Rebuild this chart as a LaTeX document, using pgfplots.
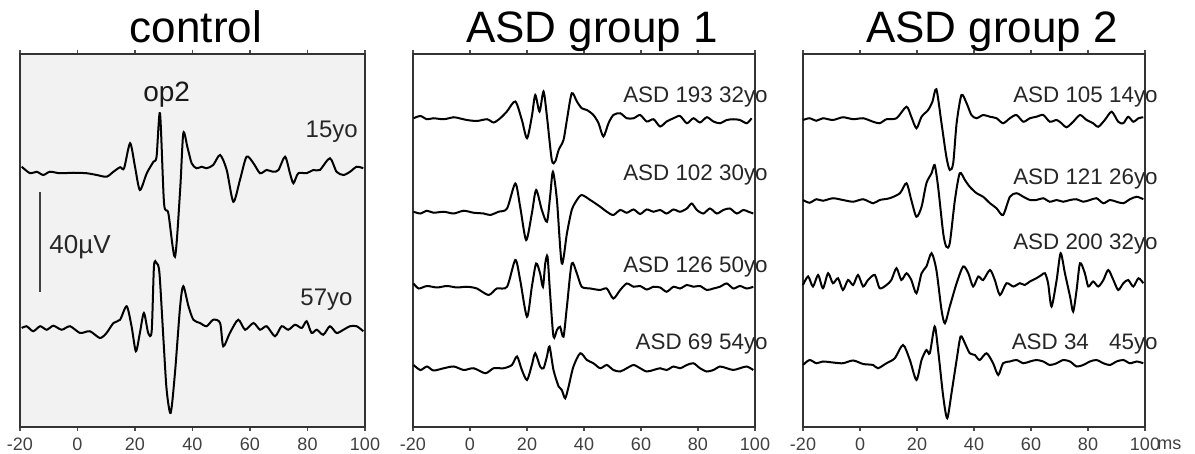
\documentclass[border=0pt]{standalone}
\usepackage{pgfplots}
\usepackage{pgfplotstable}
\pgfplotsset{compat=1.18}
\usepackage{fontspec}
\setmainfont{Liberation Sans}

% ERG oscillatory potentials: time (ms) and deviation from each trace's baseline (uV)
\pgfplotstableread{
t v
-19.4 1.3
-16.5 -1.3
-14.2 -0.7
-11.9 -2.0
-9.6 -0.7
-6.1 -1.3
-1.4 -1.1
3.2 -1.3
6.7 -2.0
10.1 -2.7
12.5 -0.7
14.8 1.1
16.2 0.7
18.3 10.7
20.0 1.3
21.7 -8.0
24.1 -1.3
26.4 3.3
27.5 5.3
28.7 22.7
30.1 -13.3
31.6 -17.3
33.9 -34.7
35.7 -8.0
36.8 14.7
38.2 9.3
39.7 2.7
41.4 0.7
43.2 1.3
44.9 0.7
47.2 2.0
49.6 6.0
51.9 0
54.2 -12.7
56.5 -4.0
58.8 5.3
61.2 2.7
63.5 -1.3
65.8 0
68.1 -0.7
69.9 0
72.2 5.3
73.9 -1.3
75.1 -5.3
76.8 -1.3
79.7 -1.3
82.0 0
84.3 0
87.8 4.7
90.1 -0.7
92.5 -2.0
94.8 -0.7
97.1 1.3
99.4 0.7
}\ctrlA

\pgfplotstableread{
t v
-19.4 0
-17.7 0.7
-15.4 -1.3
-13.0 0.7
-10.7 -0.7
-8.4 0.9
-5.5 -0.7
-2.6 0.7
0.9 -2.0
4.3 -1.3
7.8 -4.0
10.1 -2.0
12.5 2.0
14.8 3.3
17.1 8.7
18.8 0.7
20.3 -9.3
21.7 -2.0
23.1 6.0
24.6 -2.0
25.8 -1.3
26.6 24.7
27.5 26.0
28.5 22.0
29.9 -4.7
31.0 -24.7
32.4 -34.0
33.9 -18.0
35.7 8.7
36.8 16.7
38.6 8.7
40.3 3.3
42.6 2.0
44.9 0.7
47.2 3.3
49.6 2.0
50.7 -7.3
53.0 -2.0
55.9 3.3
58.3 -0.7
61.2 2.0
63.5 -0.7
65.8 0.7
68.7 -3.3
71.0 0.7
73.3 -0.7
75.7 1.3
78.0 0
79.7 2.7
81.4 -2.0
83.2 -0.7
85.5 -2.7
87.8 0.7
90.1 -2.0
92.5 -0.7
94.8 0.7
97.1 0.7
99.4 -1.3
}\ctrlB

\pgfplotstableread{
t v
-19.8 0
-17.4 0.9
-15.1 -0.4
-12.8 0
-9.2 -0.4
-5.7 0.4
-3.4 -0.1
-1.1 -0.7
2.4 -1.1
6.0 -0.4
8.3 -1.7
10.6 0
12.95 2.7
15.9 6.7
18.2 -0.7
20.0 -8.0
21.7 0.7
22.9 9.3
24.4 2.7
25.8 10.7
27.0 0.7
28.7 -16.7
29.9 -17.3
31.1 -12.7
32.8 -8.7
34.0 -0.7
35.7 10.0
37.5 6.7
39.2 4.0
41.0 3.3
43.3 1.3
45.1 -2.0
46.8 -7.3
48.6 -2.0
50.3 1.3
52.7 2.0
55.0 0
57.4 0
59.7 1.3
62.0 -1.3
64.4 -0.4
66.7 -3.3
69.0 -1.3
71.4 0
73.7 0.9
76.1 -2.0
78.4 0
80.7 -1.7
83.1 0.4
85.4 -1.3
87.7 -2.0
90.1 -0.7
92.4 -0.4
94.7 -0.7
97.1 -2.0
98.8 0
}\gaA

\pgfplotstableread{
t v
-19.8 0
-17.4 -0.7
-15.1 0.4
-12.8 -0.4
-9.2 0
-5.7 -0.7
-2.2 0.4
1.3 -0.4
4.8 -0.7
7.1 -1.3
10.0 0
13.0 1.3
15.9 11.3
17.6 2.0
19.7 -11.3
21.7 -0.7
23.2 8.7
25.2 0.7
27.0 -4.0
28.1 6.0
29.1 16.0
30.5 4.7
32.2 -20.7
34.0 -8.7
35.7 0.7
37.5 4.7
39.2 6.7
42.2 4.7
45.7 2.0
48.0 0
50.3 -1.3
52.7 0.7
55.0 -0.4
57.4 0.9
59.7 -0.9
62.0 0.9
64.4 0
66.7 0.7
69.0 -0.7
71.4 0.9
73.7 0
76.1 1.3
77.8 3.3
79.6 0.7
81.9 -0.7
84.2 1.3
86.6 -0.7
88.9 0.7
91.2 1.3
93.6 -0.7
95.9 0.7
97.7 0
99.4 -0.7
}\gaB

\pgfplotstableread{
t v
-19.8 1.3
-18.0 -0.7
-15.1 0.3
-11.6 -0.3
-8.1 0.3
-4.6 -0.3
-1.1 0
2.4 -0.7
6.5 -3.3
9.4 -0.7
13.0 0
15.9 10.7
17.6 2.7
20.0 -12.0
21.7 0
23.2 9.3
24.6 5.3
25.6 0
26.4 9.3
27.2 12.0
28.1 -2.7
29.3 -20.0
30.5 -17.3
31.6 -16.0
32.8 -20.0
34.0 -8.0
35.7 9.3
37.5 5.3
39.2 0
42.2 -0.7
45.7 -1.3
48.0 -0.7
50.3 -4.7
52.7 -1.3
55.0 1.3
57.4 0
59.7 0.3
62.0 -1.1
64.4 0
66.7 -0.3
69.0 -2.0
71.4 0
73.7 -0.7
76.1 0.7
78.4 0
80.7 0.3
83.1 -1.3
85.4 -0.7
87.7 0
90.1 1.3
92.4 -0.7
94.7 0.3
97.1 -0.7
99.4 0
}\gaC

\pgfplotstableread{
t v
-19.8 1.3
-17.4 -0.7
-15.1 0.7
-12.8 -0.9
-9.2 0
-5.7 0.7
-2.2 -0.7
1.3 0
5.4 -2.0
8.3 0
11.8 0
14.7 1.3
16.5 4.7
18.2 -0.7
20.0 -4.7
21.7 1.3
22.9 6.0
24.6 0.7
25.8 0
27.0 4.7
27.9 8.7
29.3 -0.7
31.1 -7.3
32.2 -8.7
33.4 -12.0
34.6 -7.3
36.3 0.7
38.7 6.0
41.0 3.3
43.3 2.0
45.7 0
48.0 1.3
50.3 -0.7
52.7 -1.3
55.0 0
57.4 1.3
59.7 0
62.0 -1.3
64.4 -0.7
66.7 0
69.0 -0.7
71.4 0.7
73.7 0
76.1 1.3
78.4 2.0
80.7 0
83.1 -1.3
85.4 -0.7
87.7 0.7
90.1 0
92.4 -0.7
94.7 0
97.1 0.7
99.4 -0.7
}\gaD

\pgfplotstableread{
t v
-20.0 0
-17.7 0.7
-15.3 -0.3
-13.0 0.7
-9.5 0
-6.0 1.1
-2.4 0.3
1.1 0.7
4.6 -0.7
6.9 -1.3
9.3 0.3
12.8 0.7
16.3 5.3
18.0 1.3
19.8 -3.3
21.6 1.3
23.9 4.0
25.4 7.3
26.8 12.3
28.6 -1.3
30.3 -14.7
31.5 -20.0
32.7 -17.3
33.9 -1.3
35.6 10.0
37.4 6.7
39.1 2.0
40.9 0.7
43.2 2.0
45.6 1.3
47.9 0.7
50.2 -1.3
52.6 0.7
54.9 2.0
57.3 -0.7
59.6 0.7
61.9 1.3
64.3 2.0
66.6 -0.7
69.0 0
70.7 -1.3
72.5 -2.9
74.8 -0.7
77.2 2.0
79.5 0
81.8 -1.3
83.6 -2.7
85.9 0
88.3 3.3
90.6 -0.7
92.4 -1.3
94.1 1.3
95.9 -0.7
97.7 0.7
99.4 1.1
}\gbA

\pgfplotstableread{
t v
-20.0 0
-17.7 -1.1
-15.3 0.3
-13.0 -0.3
-9.5 0.7
-6.0 0
-2.4 -0.7
1.1 0.3
4.6 -1.3
6.9 0
10.4 0.7
14.0 2.7
16.3 6.7
18.0 0
19.8 -6.7
21.6 -2.7
23.3 6.7
25.1 10.7
26.2 14.0
27.4 5.3
29.2 -13.3
30.3 -18.7
31.5 -17.3
33.3 0
35.0 10.7
36.8 8.0
38.5 5.3
40.9 2.7
43.2 1.3
45.6 -1.3
47.9 -3.3
50.2 -6.0
52.6 1.3
54.9 2.7
57.3 1.3
59.6 0
61.9 0
64.3 0.7
66.6 -0.7
69.0 0
71.3 -0.7
73.7 0
76.0 0.3
78.3 -0.7
80.7 0
83.0 0.7
85.4 -1.3
87.7 0
90.0 -0.7
92.4 -1.3
94.7 0.3
97.1 1.3
99.4 0.3
}\gbB

\pgfplotstableread{
t v
-20.0 -0.7
-18.2 2.7
-16.5 -1.3
-14.7 3.3
-13.0 -2.0
-11.2 4.0
-9.5 0
-7.7 2.0
-6.0 -2.7
-4.2 1.3
-2.4 -0.7
-0.7 3.3
1.1 -1.3
2.8 1.3
5.2 3.3
6.9 -2.0
9.3 -0.7
11.0 1.3
12.8 6.0
14.5 1.3
16.3 4.0
18.0 1.3
19.8 -4.0
21.6 4.0
23.3 6.7
25.1 12.0
26.8 5.3
28.6 -10.7
29.8 -16.0
31.5 -9.3
33.9 0
36.2 6.7
38.0 4.0
39.7 -1.3
41.5 2.7
43.2 1.3
45.6 5.3
47.3 1.3
49.1 -4.7
51.4 0
53.8 -1.3
56.1 0
57.8 -0.7
59.6 0.7
61.9 2.0
63.7 3.3
64.9 4.0
66.0 0
67.2 -9.3
69.0 1.3
70.4 12.0
71.9 4.0
73.7 -5.3
74.8 -11.3
76.0 -2.7
77.2 8.0
78.9 4.0
80.1 -1.3
81.8 0.7
83.6 -1.3
85.4 1.3
87.1 5.3
88.9 1.3
90.6 -2.7
92.4 0
94.1 1.3
95.9 -1.3
97.7 2.0
99.4 0
}\gbC

\pgfplotstableread{
t v
-20.0 -0.7
-17.7 1.3
-15.3 0
-13.0 0.7
-9.5 0.3
-6.0 0
-2.4 1.1
1.1 -0.3
4.6 -0.7
6.3 -2.0
9.3 0
12.2 2.0
15.1 7.3
17.5 1.3
19.8 -6.7
21.6 1.3
23.3 5.3
24.5 4.0
26.2 14.7
27.4 5.3
29.2 -13.3
30.6 -22.0
32.1 -12.0
33.9 1.3
35.3 10.7
36.8 8.0
38.5 4.0
40.3 3.3
42.0 1.3
44.4 4.0
46.7 0
48.5 -4.7
50.2 0
52.6 0.7
54.9 1.3
57.3 0
59.6 0.7
61.9 1.3
64.3 0.7
66.6 -0.7
69.0 0
71.3 1.3
73.7 0.7
76.0 -1.3
78.3 -0.7
80.7 0.7
83.0 1.3
85.4 0
87.7 -0.7
90.0 0.7
92.4 1.3
94.7 0
97.1 0.7
99.4 0
}\gbD

\pgfplotsset{
  erg/.style={
    scale only axis, width=171pt, height=186.5pt,
    xmin=-20, xmax=100, ymin=0, ymax=149.2,
    xtick={-20,0,20,40,60,80,100},
    xticklabels={-20,0,20,40,60,80,100},
    ytick=\empty,
    axis line style={draw=black!80, line width=1pt},
    tick align=outside, major tick length=2pt,
    xtick style={draw=black!70, line width=0.6pt},
    xticklabel style={font=\fontsize{9}{10}\selectfont, text=black!75},
    clip=false,
  },
  trace/.style={black, line width=1pt, smooth, tension=0.45, mark=none},
}
\tikzset{
  lbl/.style={anchor=base east, inner sep=0pt, font=\fontsize{11.2}{12}\selectfont, text=black!85},
}

\begin{document}
\begin{tikzpicture}
\path[use as bounding box] (0,0) rectangle (597.5pt,227pt);

% control
\begin{axis}[erg, at={(10pt,13.5pt)}, anchor=south west, width=172.5pt,
  axis background/.style={fill=black!5}]
  \addplot[trace] table[x=t, y expr=\thisrow{v}+102.8] {\ctrlA};
  \addplot[trace] table[x=t, y expr=\thisrow{v}+39.6] {\ctrlB};
  \draw[black!75, line width=1pt] (axis cs:-13,54.1) -- (axis cs:-13,94.1);
  \node[anchor=base west, inner sep=0pt, font=\fontsize{13}{14}\selectfont, text=black!85] at (axis cs:-9.9,69.2) {40µV};
  \node[anchor=base, inner sep=0pt, font=\fontsize{14}{15}\selectfont, text=black!90] at (axis cs:31,130) {op2};
  \node[anchor=base east, inner sep=0pt, font=\fontsize{12}{13}\selectfont, text=black!85] at (axis cs:97.6,115.6) {15yo};
  \node[anchor=base east, inner sep=0pt, font=\fontsize{12}{13}\selectfont, text=black!85] at (axis cs:95.8,48.4) {57yo};
\end{axis}

% ASD group 1
\begin{axis}[erg, at={(206.5pt,13.5pt)}, anchor=south west]
  \addplot[trace] table[x=t, y expr=\thisrow{v}+123.5] {\gaA};
  \addplot[trace] table[x=t, y expr=\thisrow{v}+86.1] {\gaB};
  \addplot[trace] table[x=t, y expr=\thisrow{v}+56.1] {\gaC};
  \addplot[trace] table[x=t, y expr=\thisrow{v}+23.5] {\gaD};
  \node[lbl] at (axis cs:104.6,129.6) {ASD 193 32yo};
  \node[lbl] at (axis cs:104.6,98.4) {ASD 102 30yo};
  \node[lbl] at (axis cs:104.6,61.6) {ASD 126 50yo};
  \node[lbl] at (axis cs:104.6,30.8) {ASD 69 54yo};
\end{axis}

% ASD group 2
\begin{axis}[erg, at={(401.5pt,13.5pt)}, anchor=south west]
  \addplot[trace] table[x=t, y expr=\thisrow{v}+122.8] {\gbA};
  \addplot[trace] table[x=t, y expr=\thisrow{v}+90.8] {\gbB};
  \addplot[trace] table[x=t, y expr=\thisrow{v}+57.5] {\gbC};
  \addplot[trace] table[x=t, y expr=\thisrow{v}+25.5] {\gbD};
  \node[lbl] at (axis cs:104.6,129.6) {ASD 105 14yo};
  \node[lbl] at (axis cs:104.6,96.8) {ASD 121 26yo};
  \node[lbl] at (axis cs:104.6,70.8) {ASD 200 32yo};
  \node[lbl] at (axis cs:104.6,30.8) {ASD 34\hspace{0.9em}45yo};
\end{axis}

% panel titles and time unit
\node[anchor=base, font=\fontsize{22}{24}\selectfont] at (98pt,205.5pt) {control};
\node[anchor=base, font=\fontsize{22}{24}\selectfont] at (296pt,205.5pt) {ASD group 1};
\node[anchor=base, font=\fontsize{22}{24}\selectfont] at (496pt,205.5pt) {ASD group 2};
\node[anchor=base west, inner sep=0pt, font=\fontsize{9}{10}\selectfont, text=black!75] at (578.5pt,2pt) {ms};
\end{tikzpicture}
\end{document}
